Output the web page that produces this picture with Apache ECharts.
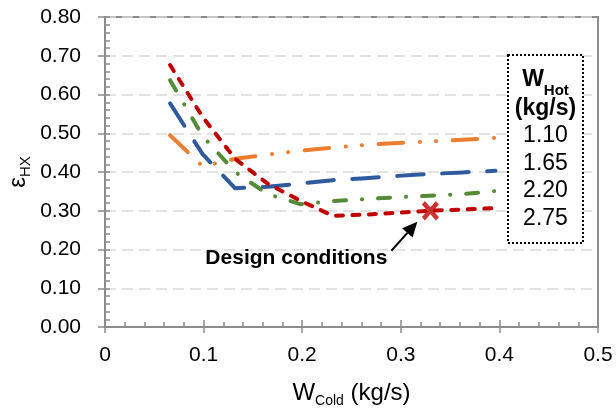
<!DOCTYPE html>
<html>
<head>
<meta charset="utf-8">
<script src="https://cdn.jsdelivr.net/npm/echarts@6/dist/echarts.min.js"></script>
<style>
  html, body { margin: 0; padding: 0; background: #fff; }
  #chart { width: 616px; height: 412px; }
</style>
</head>
<body>
<div id="chart"></div>
<script>
// Cold-side mass flow (kg/s)
const wCold = [0.066, 0.099, 0.132, 0.165, 0.198, 0.231, 0.264, 0.297, 0.330, 0.363, 0.396];
// Heat exchanger effectiveness for each hot-side flow
const eps110 = [0.495, 0.415, 0.434, 0.445, 0.455, 0.463, 0.470, 0.475, 0.479, 0.483, 0.488];
const eps165 = [0.577, 0.446, 0.358, 0.362, 0.370, 0.379, 0.384, 0.390, 0.395, 0.399, 0.403];
const eps220 = [0.637, 0.493, 0.400, 0.343, 0.317, 0.325, 0.330, 0.335, 0.339, 0.343, 0.351];
const eps275 = [0.676, 0.542, 0.434, 0.370, 0.326, 0.287, 0.290, 0.295, 0.300, 0.303, 0.307];
// Hot-side flows listed in the key (kg/s)
const hotFlows = ['1.10', '1.65', '2.20', '2.75'];
// Operating point marked on the 2.75 kg/s curve
const designPoint = [0.330, 0.300];
const designLabel = 'Design conditions';
// Axis tick ranges
const xTicks = { min: 0, max: 0.5, interval: 0.1 };
const yTicks = { min: 0, max: 0.8, interval: 0.1 };

const FONT = '"Liberation Sans", Arial, sans-serif';
const AXIS_GRAY = '#8c8c8c';
const pairs = ys => wCold.map((x, i) => [x, ys[i]]);

const curveStyles = [
  { data: eps110, color: '#ED7D31', dash: [24.5, 16.75, 0.1, 16, 0.1, 16.75] },
  { data: eps165, color: '#2F5A9E', dash: [26.5, 18.5] },
  { data: eps220, color: '#558B37', dash: [12, 16, 0.1, 16] },
  { data: eps275, color: '#C00000', dash: [7, 9.5] }
];

const chart = echarts.init(document.getElementById('chart'), null, { renderer: 'canvas' });

const grid = { left: 105, right: 18, top: 17, bottom: 85, show: true, borderColor: AXIS_GRAY, borderWidth: 2, backgroundColor: 'transparent' };

const option = {
  animation: false,
  backgroundColor: '#fff',
  grid: grid,
  xAxis: [
    {
      type: 'value', min: xTicks.min, max: xTicks.max, interval: xTicks.interval,
      axisLine: { show: true, onZero: false, lineStyle: { color: AXIS_GRAY, width: 2 } },
      axisTick: { show: true, inside: true, length: 7, lineStyle: { color: AXIS_GRAY, width: 1.5 } },
      minorTick: { show: true, splitNumber: 5, length: 5, lineStyle: { color: AXIS_GRAY, width: 1.5 } },
      splitLine: { show: false },
      axisLabel: {
        margin: 18, color: '#000', fontSize: 21, fontFamily: FONT,
        formatter: v => String(parseFloat(v.toFixed(1)))
      }
    },
    {
      type: 'value', position: 'bottom', min: xTicks.min, max: xTicks.max, interval: xTicks.interval,
      axisLine: { show: false },
      axisTick: { show: true, inside: false, length: 6, lineStyle: { color: AXIS_GRAY, width: 1.5 } },
      axisLabel: { show: false }, splitLine: { show: false }
    }
  ],
  yAxis: [
    {
      type: 'value', min: yTicks.min, max: yTicks.max, interval: yTicks.interval,
      axisLine: { show: true, onZero: false, lineStyle: { color: AXIS_GRAY, width: 2 } },
      axisTick: { show: true, inside: true, length: 5, lineStyle: { color: AXIS_GRAY, width: 1.5 } },
      minorTick: { show: true, splitNumber: 5, length: 5, lineStyle: { color: AXIS_GRAY, width: 1.5 } },
      splitLine: { show: true, lineStyle: { color: '#D9D9D9', width: 1.5, type: [11, 6] } },
      axisLabel: {
        margin: 24, color: '#000', fontSize: 21, fontFamily: FONT,
        formatter: v => v.toFixed(2)
      }
    },
    {
      type: 'value', position: 'left', min: yTicks.min, max: yTicks.max, interval: yTicks.interval,
      axisLine: { show: false },
      axisTick: { show: true, inside: false, length: 7, lineStyle: { color: AXIS_GRAY, width: 1.5 } },
      axisLabel: { show: false }, splitLine: { show: false }
    }
  ],
  series: curveStyles.map((c, i) => ({
    name: hotFlows[i],
    type: 'line',
    data: pairs(c.data),
    symbol: 'none',
    smooth: false,
    z: 3 + i,
    lineStyle: { color: c.color, width: 4, type: c.dash, cap: 'round', join: 'round' }
  })).concat([{
    type: 'scatter',
    data: [designPoint],
    z: 10,
    symbol: 'path://M0,0L10,10M10,0L0,10',
    symbolSize: [14, 16],
    itemStyle: { color: 'transparent', borderColor: '#C00000', borderWidth: 4.5 }
  }])
};

chart.setOption(option);

// Annotation, key box and axis titles placed after the scales are known
const dp = chart.convertToPixel({ xAxisIndex: 0, yAxisIndex: 0 }, designPoint);
const tip = [dp[0] - 13, dp[1] + 11];
const tail = [dp[0] - 39, dp[1] + 40];
const ang = Math.atan2(tip[1] - tail[1], tip[0] - tail[0]);
const headLen = 15, headHalf = 7;
const base = [tip[0] - headLen * Math.cos(ang), tip[1] - headLen * Math.sin(ang)];
const perp = [-Math.sin(ang), Math.cos(ang)];

const gridRight = 616 - grid.right;
const keyBox = { x: 508, y: 55, w: 75, h: 188 };
const keyCx = keyBox.x + keyBox.w / 2;

const graphics = [
  // arrow shaft and head
  { type: 'line', z: 20, shape: { x1: tail[0], y1: tail[1], x2: base[0], y2: base[1] }, style: { stroke: '#000', lineWidth: 2 } },
  { type: 'polygon', z: 20, shape: { points: [tip, [base[0] + perp[0] * headHalf, base[1] + perp[1] * headHalf], [base[0] - perp[0] * headHalf, base[1] - perp[1] * headHalf]] }, style: { fill: '#000' } },
  { type: 'text', z: 20, style: { text: designLabel, x: tail[0] - 4, y: dp[1] + 47, align: 'right', verticalAlign: 'middle', font: 'bold 21px ' + FONT, fill: '#000' } },
  // key box
  { type: 'rect', z: 15, shape: { x: keyBox.x, y: keyBox.y, width: keyBox.w, height: keyBox.h }, style: { fill: '#fff', stroke: '#000', lineWidth: 2, lineDash: [2, 2] } },
  {
    type: 'text', z: 16,
    style: {
      x: keyCx, y: 83, align: 'center', verticalAlign: 'middle',
      text: '{w|W}{s|Hot}',
      rich: {
        w: { font: 'bold 23px ' + FONT, fill: '#000', lineHeight: 30, verticalAlign: 'top' },
        s: { font: 'bold 15px ' + FONT, fill: '#000', lineHeight: 18, verticalAlign: 'bottom', padding: [8, 0, 0, 0] }
      }
    }
  },
  { type: 'text', z: 16, style: { x: keyCx, y: 109, align: 'center', verticalAlign: 'middle', text: '(kg/s)', font: 'bold 23px ' + FONT, fill: '#000' } }
].concat(hotFlows.map((h, i) => ({
  type: 'text', z: 16,
  style: { x: keyCx, y: 136 + i * 27.4, align: 'center', verticalAlign: 'middle', text: h, font: '23px ' + FONT, fill: '#000' }
}))).concat([
  // x-axis title
  {
    type: 'text', z: 16,
    style: {
      x: (grid.left + gridRight) / 2, y: 393, align: 'center', verticalAlign: 'middle',
      text: '{m|W}{s|Cold}{m| (kg/s)}',
      rich: {
        m: { font: '24px ' + FONT, fill: '#000', lineHeight: 30 },
        s: { font: '14px ' + FONT, fill: '#000', lineHeight: 18, verticalAlign: 'bottom', padding: [10, 0, 0, 0] }
      }
    }
  },
  // y-axis title
  {
    type: 'text', z: 16, x: 18, y: 172, rotation: Math.PI / 2,
    style: {
      x: 0, y: 0, align: 'center', verticalAlign: 'middle',
      text: '{m|ε}{s|HX}',
      rich: {
        m: { font: '24px ' + FONT, fill: '#000', lineHeight: 30 },
        s: { font: '15px ' + FONT, fill: '#000', lineHeight: 18, verticalAlign: 'bottom', padding: [10, 0, 0, 0] }
      }
    }
  }
]);

chart.setOption({ graphic: graphics });
</script>
</body>
</html>
